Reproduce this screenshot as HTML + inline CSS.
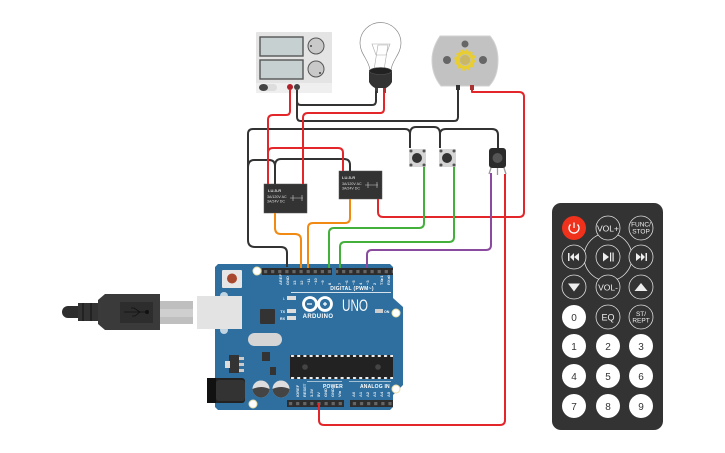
<!DOCTYPE html>
<html><head><meta charset="utf-8">
<style>html,body{margin:0;padding:0;background:#fff}svg{display:block;font-family:"Liberation Sans",sans-serif}</style>
</head><body>
<svg width="725" height="453" viewBox="0 0 725 453" xmlns="http://www.w3.org/2000/svg">
<defs>
<pattern id="hdr" x="262" y="268" width="7.1" height="7" patternUnits="userSpaceOnUse"><rect width="7.1" height="7" fill="#2d2d2d"/><rect x="2" y="2" width="3.2" height="3.2" fill="#666"/></pattern>
<pattern id="hdr2" x="287" y="400" width="7.1" height="7" patternUnits="userSpaceOnUse"><rect width="7.1" height="7" fill="#2d2d2d"/><rect x="2" y="2" width="3.2" height="3.2" fill="#666"/></pattern>
<pattern id="icp" x="290" y="355" width="6.2" height="30" patternUnits="userSpaceOnUse"><rect x="1" y="0" width="3" height="2" fill="#eee"/><rect x="1" y="22" width="3" height="2" fill="#eee"/></pattern>
</defs>

<!-- Power supply -->
<rect x="256" y="32" width="76" height="61" rx="1" fill="#e4e4e4"/>
<rect x="256" y="83" width="76" height="10" fill="#efefef"/>
<rect x="260" y="37" width="43" height="19" fill="#c6d0d1" stroke="#555" stroke-width="1.400"/>
<rect x="260" y="60" width="43" height="19" fill="#c6d0d1" stroke="#555" stroke-width="1.400"/>
<circle cx="316" cy="46" r="8" fill="#c9c9c9" stroke="#555" stroke-width="1"/>
<circle cx="316" cy="69" r="8" fill="#c9c9c9" stroke="#555" stroke-width="1"/>
<circle cx="311" cy="46" r="1" fill="#444"/><circle cx="320" cy="73" r="1" fill="#444"/>
<rect x="259" y="84" width="18" height="7" rx="3.500" fill="#ddd"/>
<ellipse cx="263.500" cy="87.500" rx="4.500" ry="3.500" fill="#444"/>
<circle cx="290" cy="87" r="3" fill="#b3202a"/><circle cx="297" cy="87" r="3" fill="#444"/>

<!-- Bulb -->
<path d="M370 70C369 60 360 54 360 43a20.500 20.500 0 0 1 41 0C401 54 392 60 391 70Z" fill="#fff" stroke="#8a8a8a" stroke-width=".7"/>
<path d="M374 70L378 45H388L384 70M372 44H390L386 55H376Z" fill="none" stroke="#aaa" stroke-width=".6"/>
<path d="M369 70h23v12q-2 4-6 6h-11q-4-2-6-6Z" fill="#333"/>
<ellipse cx="380.500" cy="71" rx="11" ry="3.500" fill="#222" stroke="#555" stroke-width=".6"/>
<rect x="375" y="88" width="3" height="5" fill="#444"/><rect x="383" y="88" width="3" height="5" fill="#a33"/>

<!-- Motor -->
<path d="M440 36H490C495 42 498 50 498 60C498 72 495 80 489 86H441C436 80 432 72 432 60C432 50 436 42 440 36Z" fill="#c2c2c2" stroke="#d2d2d2"/>
<circle cx="447" cy="60" r="4" fill="#666"/><circle cx="483" cy="60" r="4" fill="#666"/><circle cx="465" cy="44" r="3.500" fill="#666"/>
<circle cx="465" cy="60" r="7.500" fill="none" stroke="#e8cd33" stroke-width="3.500"/>
<circle cx="465" cy="60" r="9.500" fill="none" stroke="#e8cd33" stroke-width="2.500" stroke-dasharray="2.500 2.500"/>
<circle cx="465" cy="60" r="5" fill="#c9b765"/>
<rect x="456" y="85" width="4" height="5" fill="#333"/><rect x="470" y="85" width="4" height="5" fill="#a33"/>

<!-- Relays -->
<g>
<rect x="264" y="184" width="43" height="29" fill="#333" stroke="#555" stroke-width=".5"/>
<text x="268" y="192" font-size="4" font-weight="bold" fill="#ddd">LU-5-R</text>
<text x="267" y="198" font-size="3.600" fill="#ddd">3A/120V AC</text>
<text x="267" y="202.500" font-size="3.600" fill="#ddd">3A/24V DC</text>
<path d="M290 198h13M293 195v6M302 195v6" stroke="#ccc" stroke-width=".6"/>
<rect x="339" y="171" width="43" height="28" fill="#333" stroke="#555" stroke-width=".5"/>
<text x="342" y="179" font-size="4" font-weight="bold" fill="#ddd">LU-5-R</text>
<text x="342" y="185" font-size="3.600" fill="#ddd">3A/120V AC</text>
<text x="342" y="189.500" font-size="3.600" fill="#ddd">3A/24V DC</text>
<path d="M365 185h13M368 182v6M377 182v6" stroke="#ccc" stroke-width=".6"/>
</g>

<!-- Buttons -->
<g>
<rect x="409" y="149" width="17" height="18" fill="#d5d5d5"/>
<circle cx="417" cy="158" r="5" fill="#333"/>
<circle cx="411" cy="151" r="1.500" fill="#555"/><circle cx="424" cy="151" r="1.500" fill="#555"/><circle cx="411" cy="165" r="1.500" fill="#555"/><circle cx="424" cy="165" r="1.500" fill="#555"/>
<rect x="439" y="149" width="17" height="18" fill="#d5d5d5"/>
<circle cx="447" cy="158" r="5" fill="#333"/>
<circle cx="441" cy="151" r="1.500" fill="#555"/><circle cx="454" cy="151" r="1.500" fill="#555"/><circle cx="441" cy="165" r="1.500" fill="#555"/><circle cx="454" cy="165" r="1.500" fill="#555"/>
</g>

<!-- IR receiver -->
<path d="M491 168l-2 6M497.500 168v7M504 168l2 6" stroke="#999" stroke-width="1.300" fill="none"/>
<rect x="489" y="148" width="17" height="20" rx="3" fill="#2b2b2b"/>
<circle cx="497.500" cy="158" r="5" fill="#555"/>

<!-- Arduino -->
<path d="M218 264H390L393 267V298L403 307V385L393 395V407L390 410H218L215 407V267Z" fill="#2f6f9f"/>
<rect x="262" y="268" width="70" height="7" fill="url(#hdr)"/>
<rect x="336" y="268" width="57" height="7" fill="url(#hdr)"/>
<rect x="287" y="400" width="57" height="7" fill="url(#hdr2)"/>
<rect x="350" y="400" width="43" height="7" fill="url(#hdr2)"/>
<circle cx="257" cy="271" r="4" fill="#fff" stroke="#e8dfa8"/><circle cx="396" cy="313" r="4" fill="#fff" stroke="#e8dfa8"/><circle cx="396" cy="389" r="4" fill="#fff" stroke="#e8dfa8"/><circle cx="253" cy="404" r="4" fill="#fff" stroke="#e8dfa8"/>
<rect x="222" y="270" width="20" height="18" rx="1" fill="#e6e6e6"/>
<circle cx="232" cy="278.500" r="5" fill="#a8482e"/>
<ellipse cx="224" cy="296" rx="4" ry="4" fill="#fff" opacity=".7"/><ellipse cx="224" cy="330" rx="4" ry="4" fill="#fff" opacity=".7"/>
<rect x="197" y="296" width="45" height="33" fill="#e3e3e3"/>
<rect x="260" y="309" width="15" height="15" rx="1" fill="#333"/>
<rect x="248" y="333" width="34" height="13" rx="6.500" fill="#d5d5d5"/>
<rect x="262" y="352" width="8" height="9" fill="#333"/>
<rect x="290" y="355" width="103" height="24" rx="1" fill="#222"/>
<rect x="290" y="355" width="103" height="24" fill="url(#icp)"/>
<circle cx="305" cy="367" r="2.800" fill="#444"/><circle cx="378" cy="367" r="2.800" fill="#444"/>
<rect x="229" y="355" width="10" height="18" fill="#333"/><rect x="225" y="361" width="5" height="7" fill="#ddd"/>
<rect x="239" y="357" width="5" height="3" fill="#ccc"/><rect x="239" y="363" width="5" height="3" fill="#ccc"/><rect x="239" y="369" width="5" height="3" fill="#ccc"/>
<rect x="270" y="367" width="6" height="8" fill="#333"/>
<rect x="207" y="378" width="38" height="25" rx="3" fill="#222"/><rect x="207" y="378" width="9" height="25" fill="#111"/>
<rect x="216" y="380" width="29" height="21" rx="3" fill="#333"/>
<circle cx="261" cy="389" r="8.500" fill="#ddd"/><path d="M252.500 389a8.500 8.500 0 0 0 17 0q-8.500-4-17 0Z" fill="#444"/>
<circle cx="281" cy="389" r="8.500" fill="#ddd"/><path d="M272.500 389a8.500 8.500 0 0 0 17 0q-8.500-4-17 0Z" fill="#444"/>
<g fill="#fff" stroke="none">
<rect x="291" y="292" width="100" height=".8"/>
<rect x="307" y="381" width="35" height=".7" opacity=".8"/><rect x="349" y="381" width="42" height=".7" opacity=".8"/>
<text x="352" y="290" font-size="5" font-weight="bold" text-anchor="middle" letter-spacing=".3">DIGITAL (PWM~)</text>
<text x="323" y="388" font-size="5" font-weight="bold" letter-spacing=".2">POWER</text>
<text x="360" y="388" font-size="5" font-weight="bold" letter-spacing=".2">ANALOG IN</text>
<text x="318" y="318" font-size="6" font-weight="bold" text-anchor="middle" letter-spacing=".4">ARDUINO</text>
<text x="342" y="311" font-size="17" font-weight="normal" opacity=".95" textLength="26" lengthAdjust="spacingAndGlyphs">UNO</text>
<g font-size="4" font-weight="bold" opacity=".85">
<text x="282" y="285" transform="rotate(-90 282 285)">AREF</text>
<text x="289" y="285" transform="rotate(-90 289 285)">GND</text>
<text x="296" y="285" transform="rotate(-90 296 285)">13</text>
<text x="303" y="285" transform="rotate(-90 303 285)">12</text>
<text x="310" y="285" transform="rotate(-90 310 285)">~11</text>
<text x="317" y="285" transform="rotate(-90 317 285)">~10</text>
<text x="324" y="285" transform="rotate(-90 324 285)">~9</text>
<text x="331" y="285" transform="rotate(-90 331 285)">8</text>
<text x="341" y="285" transform="rotate(-90 341 285)">7</text>
<text x="348" y="285" transform="rotate(-90 348 285)">~6</text>
<text x="355" y="285" transform="rotate(-90 355 285)">~5</text>
<text x="362" y="285" transform="rotate(-90 362 285)">4</text>
<text x="369" y="285" transform="rotate(-90 369 285)">~3</text>
<text x="376" y="285" transform="rotate(-90 376 285)">2</text>
<text x="383" y="285" transform="rotate(-90 383 285)">TX▸1</text>
<text x="390" y="285" transform="rotate(-90 390 285)">RX◂0</text>
<text x="299" y="397" transform="rotate(-90 299 397)">IOREF</text>
<text x="306" y="397" transform="rotate(-90 306 397)">RESET</text>
<text x="313" y="397" transform="rotate(-90 313 397)">3.3V</text>
<text x="320" y="397" transform="rotate(-90 320 397)">5V</text>
<text x="327" y="397" transform="rotate(-90 327 397)">GND</text>
<text x="334" y="397" transform="rotate(-90 334 397)">GND</text>
<text x="341" y="397" transform="rotate(-90 341 397)">Vin</text>
<text x="355" y="397" transform="rotate(-90 355 397)">A0</text>
<text x="362" y="397" transform="rotate(-90 362 397)">A1</text>
<text x="369" y="397" transform="rotate(-90 369 397)">A2</text>
<text x="376" y="397" transform="rotate(-90 376 397)">A3</text>
<text x="383" y="397" transform="rotate(-90 383 397)">A4</text>
<text x="390" y="397" transform="rotate(-90 390 397)">A5</text>
</g>
<text x="285" y="300" font-size="3.600" text-anchor="end">L</text>
<text x="285" y="313" font-size="3.600" text-anchor="end" font-weight="bold">TX</text>
<text x="285" y="320" font-size="3.600" text-anchor="end" font-weight="bold">RX</text>
<text x="384" y="313" font-size="3.600" font-weight="bold">ON</text>
</g>
<rect x="287" y="296" width="9" height="4" fill="#ddd"/><rect x="287" y="309" width="9" height="4" fill="#ddd"/><rect x="287" y="316" width="9" height="4" fill="#ddd"/><rect x="375" y="309" width="8" height="4" fill="#ccc"/>
<circle cx="310" cy="304" r="6.500" fill="none" stroke="#fff" stroke-width="2.800"/>
<circle cx="325" cy="304" r="6.500" fill="none" stroke="#fff" stroke-width="2.800"/>
<path d="M307 304h5M323 304h4M325 302v4" stroke="#fff" stroke-width="1.200"/>

<!-- USB -->
<rect x="160" y="301" width="33" height="23" fill="#bfbfbf"/>
<rect x="160" y="309" width="33" height="8" fill="#cfcfcf"/>
<path d="M98 300L105 294H160V330H105L98 324Z" fill="#3a3a3a"/>
<rect x="120" y="302" width="33" height="21" fill="#2d2d2d"/>
<path d="M124 312h24M140 312l-6-4h-3M140 312l-5 4h-3" stroke="#111" stroke-width=".8" fill="none"/><circle cx="147" cy="312" r="2" fill="#111"/>
<path d="M78 303H98V321H78Z" fill="#333"/>
<path d="M83 303v18M91 303v18" stroke="#222" stroke-width="2"/>
<path d="M78 306H68a6 6 0 0 0 0 12H78Z" fill="#2e2e2e"/>

<!-- Wires -->
<g fill="none" stroke-width="2" stroke-linejoin="round">
<g stroke="#333">
<path d="M297 90V101Q297 105 301 105H372Q376 105 376 101V91"/>
<path d="M297 90V117Q297 121 301 121H454Q458 121 458 117V88"/>
<path d="M410 148V134Q410 129 405 129H253Q248 129 248 134V240Q248 247 255 247H281Q287 247 287 253V267"/>
<path d="M410 134Q410 127 416 127H434Q440 127 440 134V148"/>
<path d="M440 134Q440 129 446 129H492Q498 129 498 135V148"/>
<path d="M248 168Q248 160 254 160H269Q275 160 275 166V184"/>
<path d="M275 166Q275 159 281 159H344Q350 159 350 165V171"/>
</g>
<g stroke="#e3262a">
<path d="M290 90V111Q290 115 286 115H273Q268 115 268 120V184"/>
<path d="M384 92V109Q384 113 380 113H308Q303 113 303 118V184"/>
<path d="M268 153Q268 148 273 148H338Q343 148 343 153V171"/>
<path d="M472 90V92H519Q524 92 524 97V212Q524 217 519 217H383Q378 217 378 212V199"/>
<path d="M505 174V420Q505 425 500 425H324Q319 425 319 420V403"/>
</g>
<g stroke="#f18a12">
<path d="M275 213V228Q275 234 281 234H295Q301 234 301 240V268"/>
<path d="M350 199V218Q350 223 345 223H313Q308 223 308 228V268"/>
</g>
<g stroke="#44b03c">
<path d="M424 167V223Q424 228 419 228H334Q329 228 329 233V268"/>
<path d="M454 167V237Q454 242 449 242H345Q340 242 340 247V268"/>
</g>
<path d="M491 173V245Q491 250 486 250H372Q367 250 367 255V268" stroke="#8a4a9e"/>
</g>

<!-- Remote -->
<rect x="552" y="203" width="111" height="227" rx="9" fill="#333"/>
<circle cx="608" cy="257" r="24" fill="none" stroke="#ddd" stroke-width=".8"/>
<g fill="#333" stroke="#ddd" stroke-width=".8">
<circle cx="608" cy="228" r="12"/><circle cx="641" cy="228" r="12"/>
<circle cx="574" cy="257" r="12"/><circle cx="608" cy="257" r="12"/><circle cx="641" cy="257" r="12"/>
<circle cx="574" cy="287" r="12"/><circle cx="608" cy="287" r="12"/><circle cx="641" cy="287" r="12"/>
<circle cx="608" cy="317" r="12"/><circle cx="641" cy="317" r="12"/>
</g>
<circle cx="574" cy="228" r="12" fill="#f0311c"/>
<path d="M570.500 224.500a5 5 0 1 0 7 0M574 222.500v5.500" fill="none" stroke="#fff" stroke-width="1.300"/>
<g fill="#fff">
<circle cx="574" cy="317" r="12"/><circle cx="574" cy="346" r="12"/><circle cx="608" cy="346" r="12"/><circle cx="641" cy="346" r="12"/>
<circle cx="574" cy="376" r="12"/><circle cx="608" cy="376" r="12"/><circle cx="641" cy="376" r="12"/>
<circle cx="574" cy="406" r="12"/><circle cx="608" cy="406" r="12"/><circle cx="641" cy="406" r="12"/>
</g>
<g fill="#333" font-size="10" text-anchor="middle">
<text x="574" y="321">0</text><text x="574" y="350">1</text><text x="608" y="350">2</text><text x="641" y="350">3</text>
<text x="574" y="380">4</text><text x="608" y="380">5</text><text x="641" y="380">6</text>
<text x="574" y="410">7</text><text x="608" y="410">8</text><text x="641" y="410">9</text>
</g>
<g fill="#eee" text-anchor="middle">
<text x="608" y="231.500" font-size="8.500">VOL+</text>
<text x="608" y="290.500" font-size="8.500">VOL-</text>
<text x="608" y="320.500" font-size="9">EQ</text>
<text x="641" y="226.500" font-size="6.500">FUNC/</text><text x="641" y="233.500" font-size="6.500">STOP</text>
<text x="641" y="316" font-size="6.500">ST/</text><text x="641" y="322.500" font-size="6.500">REPT</text>
</g>
<g fill="#eee">
<path d="M568 253v8h1.500v-8ZM574 253v8l-4-4ZM579 253v8l-5-4Z"/>
<path d="M636 253v8l5-4ZM641 253v8l4-4ZM645.500 253v8h1.500v-8Z"/>
<path d="M603 252.500v9l6-4.500ZM610 252.500v9h1.200v-9ZM612.500 252.500v9h1.200v-9Z"/>
<path d="M568 283.500h12l-6 8Z"/>
<path d="M641 283l6.500 8h-13Z"/>
</g>
</svg>
</body></html>
